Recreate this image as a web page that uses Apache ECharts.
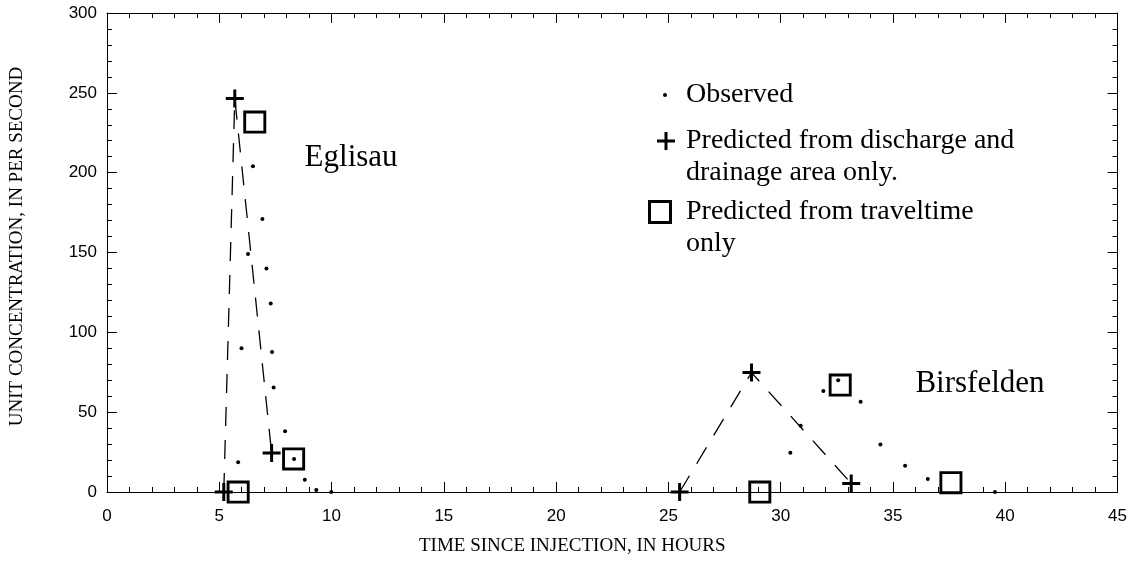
<!DOCTYPE html>
<html>
<head>
<meta charset="UTF-8">
<title>Unit concentration</title>
<script type="text/javascript" src="https://cdn.jsdelivr.net/npm/echarts@6/dist/echarts.min.js"></script>
</head>
<body style="margin:0">
	<div id="main" style="height:565px;width:1130px"></div>
<script type="text/javascript">
// values: [hours, unit concentration]
var observed = [
  [5.84, 18.6], [5.99, 90], [6.28, 149], [6.50, 204], [6.92, 171], [7.10, 140],
  [7.29, 118], [7.35, 87.7], [7.42, 65.5], [7.93, 38], [8.33, 20.7], [8.81, 7.7],
  [9.32, 1.3], [9.99, 0],
  [30.43, 24.6], [30.89, 41.5], [31.9, 63.2], [32.56, 70], [33.56, 56.5],
  [34.44, 29.8], [35.54, 16.5], [36.55, 8.1], [39.54, 0]
];
var dischargeEglisau = [[5.2, 0], [5.69, 246.5], [7.33, 24.4]];
var dischargeBirsfelden = [[25.5, 0], [28.7, 74.8], [33.14, 5.4]];
var traveltime = [[5.84, 0], [6.58, 231.7], [8.31, 20.7], [29.07, 0], [32.65, 67], [37.58, 5.8]];
var stations = [{ name: 'Eglisau', value: [8.8, 209.5] }, { name: 'Birsfelden', value: [36.0, 68] }];

var xTitle = 'TIME SINCE INJECTION, IN HOURS';
var yTitle = 'UNIT CONCENTRATION, IN PER SECOND';
var nameObs = 'Observed';
var nameDis = 'Predicted from discharge and drainage area only.';
var nameTrav = 'Predicted from traveltime only';

var plusPath = 'path://M7.5,0H10.5V7.5H18V10.5H10.5V18H7.5V10.5H0V7.5H7.5Z';
var boxPath = 'path://M0,0H24V24H0Z M3,3V21H21V3Z';
var serif = 'Liberation Serif';
var sans = 'Liberation Sans';

var myChart = echarts.init(document.getElementById('main'));

function xAxisOf(pos, labels) {
  return {
    type: 'value', position: pos, min: 0, max: 45, interval: 5,
    name: labels ? xTitle : '', nameLocation: 'middle', nameGap: 45,
    nameTextStyle: { fontFamily: serif, fontSize: 19, color: '#000', padding: [0, 80, 0, 0] },
    axisLine: { show: true, onZero: false, lineStyle: { color: '#000', width: 1 } },
    axisTick: { show: true, inside: true, length: 10, lineStyle: { color: '#000' } },
    minorTick: { show: true, splitNumber: 5, length: 5, lineStyle: { color: '#000' } },
    axisLabel: { show: labels, margin: 16, fontFamily: sans, fontSize: 17, color: '#000' },
    splitLine: { show: false }
  };
}
function yAxisOf(pos, labels) {
  return {
    type: 'value', position: pos, min: 0, max: 300, interval: 50,
    name: labels ? yTitle : '', nameLocation: 'middle', nameGap: 80,
    nameTextStyle: { fontFamily: serif, fontSize: 19, color: '#000', padding: [0, 0, 0, 12] },
    axisLine: { show: true, onZero: false, lineStyle: { color: '#000', width: 1 } },
    axisTick: { show: true, inside: true, length: 10, lineStyle: { color: '#000' } },
    minorTick: { show: true, splitNumber: 5, length: 5, lineStyle: { color: '#000' } },
    axisLabel: { show: labels, margin: 10, fontFamily: sans, fontSize: 17, color: '#000' },
    splitLine: { show: false }
  };
}

var legendText = { fontFamily: serif, fontSize: 28, lineHeight: 32, color: '#000' };

option = {
  animation: false,
  backgroundColor: '#fff',
  grid: { left: 107, right: 10, top: 13, bottom: 73 },
  xAxis: [xAxisOf('bottom', true), xAxisOf('top', false)],
  yAxis: [yAxisOf('left', true), yAxisOf('right', false)],
  legend: [
    {
      data: [{ name: nameObs, icon: 'circle' }], selectedMode: false,
      left: 658, top: 74, itemWidth: 4, itemHeight: 4,
      textStyle: Object.assign({ padding: [0, 0, 0, 14] }, legendText)
    },
    {
      data: [{ name: nameDis, icon: plusPath }], selectedMode: false,
      left: 652, top: 88, itemWidth: 18, itemHeight: 18,
      formatter: function () { return ' \nPredicted from discharge and\ndrainage area only.'; },
      textStyle: Object.assign({ padding: [0, 0, 0, 6] }, legendText)
    },
    {
      data: [{ name: nameTrav, icon: boxPath }], selectedMode: false,
      left: 643, top: 159, itemWidth: 24, itemHeight: 24,
      formatter: function () { return ' \nPredicted from traveltime\nonly'; },
      textStyle: Object.assign({ padding: [0, 0, 0, 9] }, legendText)
    }
  ],
  series: [
    {
      name: nameDis, type: 'line', data: dischargeEglisau,
      symbol: plusPath, symbolSize: 18, showAllSymbol: true,
      itemStyle: { color: '#000' },
      lineStyle: { color: '#000', width: 1.3, type: [19, 14] }
    },
    {
      name: nameDis, type: 'line', data: dischargeBirsfelden,
      symbol: plusPath, symbolSize: 18, showAllSymbol: true,
      itemStyle: { color: '#000' },
      lineStyle: { color: '#000', width: 1.3, type: [19, 14] }
    },
    {
      name: nameTrav, type: 'scatter', data: traveltime,
      symbol: boxPath, symbolSize: 23,
      itemStyle: { color: '#000', opacity: 1 }
    },
    {
      name: nameObs, type: 'scatter', data: observed,
      symbol: 'circle', symbolSize: 4,
      itemStyle: { color: '#000', opacity: 1 }
    },
    {
      name: 'stations', type: 'scatter', data: stations,
      symbolSize: 0, silent: true,
      itemStyle: { opacity: 1 },
      label: {
        show: true, position: 'right', distance: 0,
        formatter: '{b}', fontFamily: serif, fontSize: 31, color: '#000'
      }
    }
  ]
};
myChart.setOption(option);
</script>
</body>
</html>
